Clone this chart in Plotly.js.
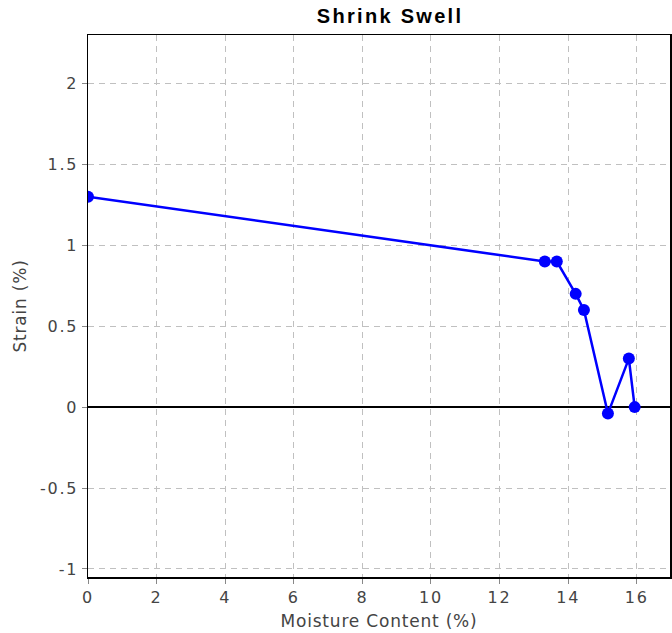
<!DOCTYPE html>
<html>
<head>
<meta charset="utf-8">
<script src="https://cdn.plot.ly/plotly-3.0.1.min.js"></script>
<style>
html,body{margin:0;padding:0;background:#fff}
#chart{width:672px;height:633px}
#chart .gtitle{letter-spacing:2.3px}
#chart .xtick text, #chart .ytick text{letter-spacing:1.8px}
#chart .xtitle, #chart .ytitle{letter-spacing:0.8px}
</style>
</head>
<body>
<div id="chart"></div>
<script>
const moisture = [0, 13.32, 13.67, 14.22, 14.46, 15.16, 15.77, 15.94];
const strain = [1.3, 0.9, 0.9, 0.7, 0.6, -0.04, 0.3, 0.0];
const xTicks = [0, 2, 4, 6, 8, 10, 12, 14, 16];
const yTicks = [-1, -0.5, 0, 0.5, 1, 1.5, 2];

const trace = {
  x: moisture, y: strain, type: 'scatter', mode: 'lines+markers',
  line: {color: '#0000ff', width: 2.5},
  marker: {color: '#0000ff', size: 12},
  cliponaxis: true
};
const axisCommon = {
  showline: true, linecolor: '#000', linewidth: 1.5, mirror: true,
  ticks: 'outside', ticklen: 5, tickcolor: '#888', tickwidth: 1,
  showgrid: true, gridcolor: '#c0c0c0', griddash: '6px,5px', gridwidth: 1,
  tickfont: {family: 'DejaVu Sans', size: 16, color: '#444'},
  title: {font: {family: 'DejaVu Sans', size: 17, color: '#444'}}
};
const layout = {
  width: 672, height: 633,
  margin: {l: 88, r: 2, t: 35, b: 56},
  paper_bgcolor: '#fff', plot_bgcolor: '#fff',
  showlegend: false,
  title: {text: 'Shrink Swell', xref: 'paper', x: 0.519, xanchor: 'center', y: 0.986, yanchor: 'top',
          font: {family: 'Liberation Sans', size: 20, color: '#000', weight: 'bold'}},
  xaxis: Object.assign({}, axisCommon, {
    range: [0, 16.97], tickvals: xTicks, ticktext: xTicks.map(String),
    zeroline: false,
    title: Object.assign({}, axisCommon.title, {text: 'Moisture Content (%)', standoff: 9})
  }),
  yaxis: Object.assign({}, axisCommon, {
    range: [-1.05, 2.3], tickvals: yTicks, ticktext: yTicks.map(String),
    zeroline: true, zerolinecolor: '#000', zerolinewidth: 2,
    title: Object.assign({}, axisCommon.title, {text: 'Strain (%)', standoff: 16})
  })
};
Plotly.newPlot('chart', [trace], layout, {displayModeBar: false, staticPlot: true});
</script>
</body>
</html>
